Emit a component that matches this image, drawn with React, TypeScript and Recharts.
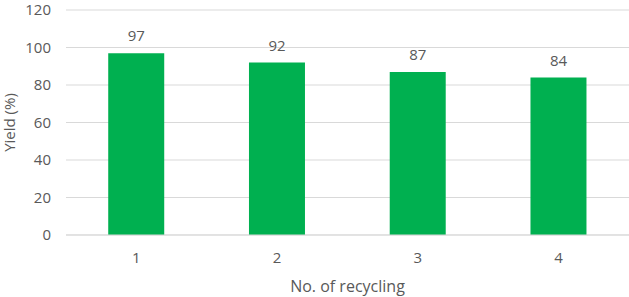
import React from 'react';
import { BarChart, Bar, XAxis, YAxis, CartesianGrid, LabelList } from 'recharts';

const cycles = ['1', '2', '3', '4'];
const yields = [97, 92, 87, 84];
const yTicks = [0, 20, 40, 60, 80, 100, 120];

const data = cycles.map((c, i) => ({ cycle: c, yield: yields[i] }));

const TEXT = '#595959';
const FONT = '"Open Sans", sans-serif';

export default function App() {
  return (
    <div style={{ position: 'absolute', left: 0, top: 0, width: 629, height: 297, background: '#fff' }}>
      <BarChart
        width={629}
        height={297}
        data={data}
        margin={{ top: 10, right: 0, bottom: 0, left: 0 }}
        barCategoryGap="30%"
        style={{ fontFamily: FONT }}
      >
        <CartesianGrid vertical={false} stroke="#d9d9d9" strokeWidth={1} />
        <XAxis
          dataKey="cycle"
          height={62}
          axisLine={{ stroke: '#d9d9d9' }}
          tickLine={false}
          tickMargin={11}
          tick={{ fill: TEXT, fontSize: 15, fontFamily: FONT }}
          label={{ value: 'No. of recycling', position: 'insideBottom', offset: 5, fill: TEXT, fontSize: 16, fontFamily: FONT }}
        />
        <YAxis
          width={66}
          domain={[0, 120]}
          ticks={yTicks}
          axisLine={false}
          tickLine={false}
          tickMargin={9}
          tick={{ fill: TEXT, fontSize: 15, fontFamily: FONT }}
          label={{ value: 'Yield (%)', angle: -90, position: 'insideLeft', offset: 10, fill: TEXT, fontSize: 15, fontFamily: FONT, style: { textAnchor: 'middle' } }}
        />
        <Bar dataKey="yield" fill="#00b050" isAnimationActive={false}>
          <LabelList dataKey="yield" position="top" offset={12} fill={TEXT} fontSize={15} fontFamily={FONT} />
        </Bar>
      </BarChart>
    </div>
  );
}
